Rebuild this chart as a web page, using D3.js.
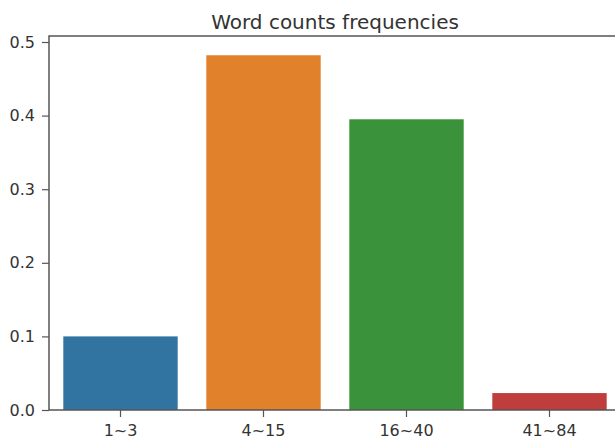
<!DOCTYPE html>
<html><head><meta charset="utf-8">
<script src="https://cdn.jsdelivr.net/npm/d3@7"></script>
<style>body{margin:0;background:#fff;} svg{display:block;}</style>
</head><body>
<svg id="c" width="615" height="440"></svg>
<script>
const categories = ["1~3", "4~15", "16~40", "41~84"];
const values = [0.100, 0.482, 0.395, 0.023];
const colors = ["#3274a1", "#e1812c", "#3a923a", "#c03d3e"];
const yTicks = [0.0, 0.1, 0.2, 0.3, 0.4, 0.5];
const title = "Word counts frequencies";

const svg = d3.select("#c");
const mLeft = 49, mRight = 621, mTop = 36, mBottom = 410;
const x = d3.scaleBand().domain(categories).range([mLeft, mRight]).paddingInner(0.2).paddingOuter(0.1);
const y = d3.scaleLinear().domain([0, 0.5]).range([mBottom, 42]);

svg.append("g").selectAll("rect").data(values).join("rect")
  .attr("x", (d, i) => x(categories[i]))
  .attr("width", x.bandwidth())
  .attr("y", d => y(d))
  .attr("height", d => y(0) - y(d))
  .attr("fill", (d, i) => colors[i]);

const font = "'DejaVu Sans', sans-serif";
const yAxis = svg.append("g").attr("transform", `translate(${mLeft},0)`)
  .call(d3.axisLeft(y).tickValues(yTicks).tickFormat(d3.format(".1f")).tickSize(7).tickPadding(7));
const xAxis = svg.append("g").attr("transform", `translate(0,${mBottom})`)
  .call(d3.axisBottom(x).tickSize(7).tickPadding(8));
[yAxis, xAxis].forEach(g => {
  g.select(".domain").remove();
  g.selectAll("line").attr("stroke", "#555").attr("stroke-width", 1.2);
  g.selectAll("text").attr("font-family", font).attr("font-size", 16).attr("fill", "#333");
});
svg.append("rect").attr("x", mLeft).attr("y", mTop).attr("width", mRight - mLeft).attr("height", mBottom - mTop)
  .attr("fill", "none").attr("stroke", "#555").attr("stroke-width", 1.5);

svg.append("text").attr("x", (mLeft + mRight) / 2).attr("y", 29).attr("text-anchor", "middle")
  .attr("font-family", font).attr("font-size", 20).attr("fill", "#333").text(title);
</script>
</body></html>
